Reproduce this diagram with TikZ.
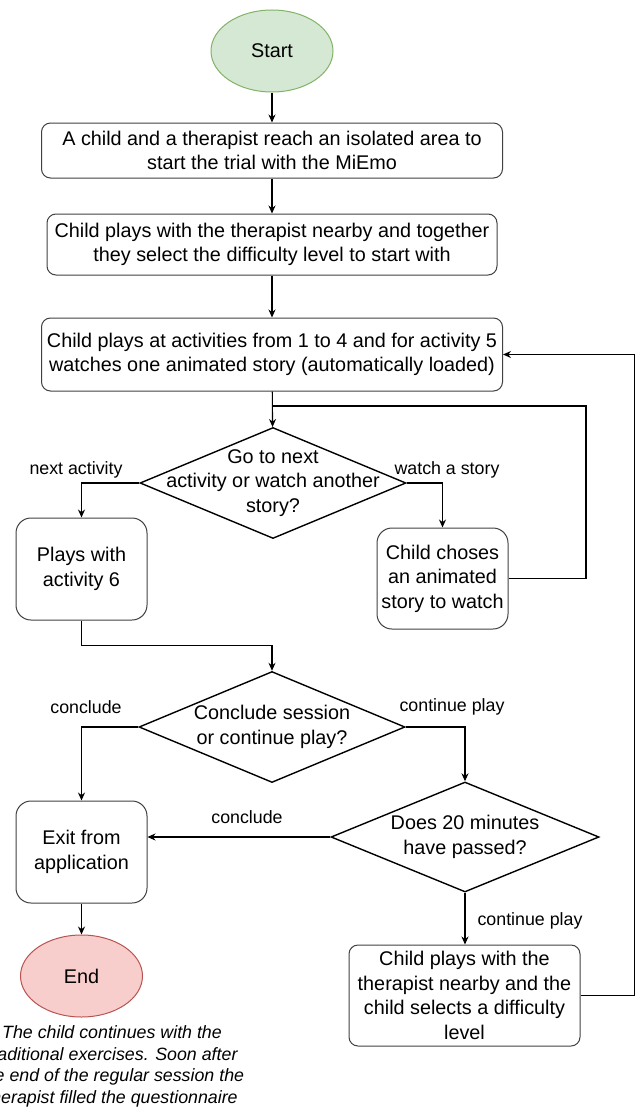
\documentclass[tikz,border=0pt]{standalone}
\usepackage{fontspec}
\setmainfont{Liberation Sans}
\usepackage{xcolor}
\usepackage{tikz}
\usetikzlibrary{arrows.meta,positioning,shapes.geometric}
\definecolor{startgreen}{HTML}{D5E8D4}
\definecolor{startedge}{HTML}{82B366}
\definecolor{endred}{HTML}{F8CECC}
\definecolor{endedge}{HTML}{B85450}
\newcommand{\fbig}{\fontsize{19.8}{24.5}\selectfont}
\newcommand{\fsmall}{\fontsize{17.8}{21.7}\selectfont}

\begin{document}
\begin{tikzpicture}[x=1pt,y=-1pt,
 b/.style={draw=black!75,line width=1pt,rounded corners=9pt,align=center,font=\fbig,inner sep=0pt},
 sq/.style={b,rounded corners=15pt,minimum width=131pt,minimum height=102pt},
 dia/.style={diamond,draw=black,line width=1.4pt,minimum width=266pt,minimum height=111pt,inner sep=0pt},
 term/.style={ellipse,line width=1pt,minimum width=122pt,minimum height=82pt,font=\fbig},
 lab/.style={font=\fsmall,inner sep=0pt},
 ar/.style={-{Stealth[length=8pt,width=7pt]},line width=1.1pt},
 ln/.style={line width=1.1pt}]
\useasboundingbox (0,0) rectangle (639,1108);
% main column
\node[term,draw=startedge,fill=startgreen] (st) at (272,51) {Start};
\node[b,below=30pt of st,minimum width=461pt,minimum height=55pt] (a1) {A child and a therapist reach an isolated area to\\start the trial with the MiEmo};
\node[b,below=35pt of a1,minimum width=450pt,minimum height=61pt] (a2) {Child plays with the therapist nearby and together\\they select the difficulty level to start with};
\node[b,below=42pt of a2,minimum width=461pt,minimum height=73pt] (a3) {Child plays at activities from 1 to 4 and for activity 5\\watches one animated story (automatically loaded)};
\node[dia,label={[font=\fbig,align=center]center:Go to next\\activity or watch another\\story?}] (d1) at (273,483) {};
\node[sq] (pl) at (81.5,569) {Plays with\\activity 6};
\node[sq,minimum height=101pt] (ch) at (442.5,578.5) {Child choses\\an animated\\story to watch};
\node[dia,label={[font=\fbig,align=center]center:Conclude session\\or continue play?}] (d2) at (272,727) {};
\node[sq] (ex) at (81.5,852) {Exit from\\application};
\node[dia,minimum width=268pt,minimum height=110pt,label={[font=\fbig,align=center]center:Does 20 minutes\\have passed?}] (d3) at (465,837) {};
\node[term,draw=endedge,fill=endred] (en) at (81.5,976) {End};
\node[b,minimum width=231pt,minimum height=101pt] (lb) at (464.5,995.5) {Child plays with the\\therapist nearby and the\\child selects a difficulty\\level};
\node[align=center,font=\fsmall\itshape,inner sep=0pt] (nt) at (112,1066.5) {The child continues with the\\traditional exercises. Soon after\\the end of the regular session the\\therapist filled the questionnaire};
% edge labels
\node[lab] (l1) at (76,470) {next activity};
\node[lab] (l2) at (447,470) {watch a story};
\node[lab] (l3) at (86,707) {conclude};
\node[lab] (l4) at (452,707) {continue play};
\node[lab] (l5) at (247,817) {conclude};
\node[lab] (l6) at (530,921) {continue play};
\coordinate (jn) at (273,406);
\coordinate (lp) at (586,406);
% connectors
\draw[ar] (st) -- (a1);
\draw[ar] (a1) -- (a2);
\draw[ar] (a2) -- (a3);
\draw[ar] (a3) -- (d1);
\draw[ar] (d1.west) -| (pl.north);
\draw[ar] (d1.east) -| (ch.north);
\draw[ln] (ch.east) -| (lp) -- (jn);
\draw[ar] (pl.south) -- ++(0,25) -| (d2.north);
\draw[ar] (d2.west) -| (ex.north);
\draw[ar] (d2.east) -| (d3.north);
\draw[ar] (d3.west) -- (d3.west -| ex.east);
\draw[ar] (d3.south) -- (d3.south |- lb.north);
\draw[ar] (ex) -- (en);
\draw[ar] (lb.east) -- ++(54,0) |- (a3.east);
\end{tikzpicture}
\end{document}
